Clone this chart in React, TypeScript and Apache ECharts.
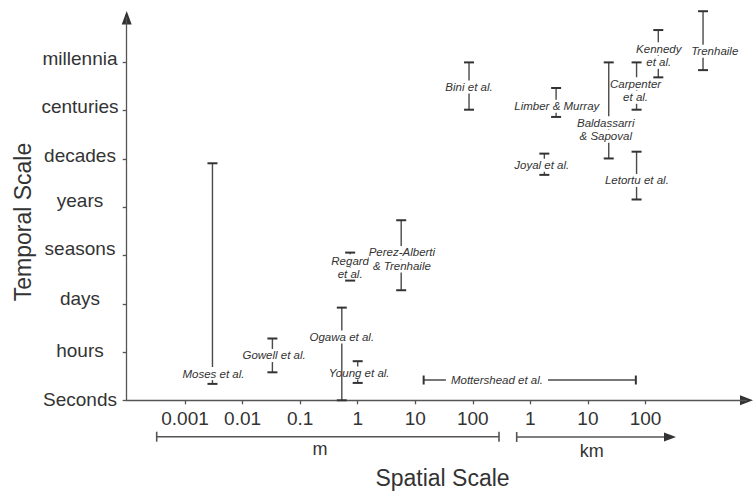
import React, { useEffect, useRef } from "react";
import * as echarts from "echarts";

// ---------- data ----------
const temporalLevels = ["Seconds", "hours", "days", "seasons", "years", "decades", "centuries", "millennia"];
const temporalTickValues = [0, 1, 2, 3, 4, 5, 6, 7];

const spatialTickValues = [0.001, 0.01, 0.1, 1, 10, 100, 1000, 10000, 100000]; // metres
const spatialTickLabels = ["0.001", "0.01", "0.1", "1", "10", "100", "1", "10", "100"];

const studyNames = [
  "Moses et al.",
  "Gowell et al.",
  "Young et al.",
  "Ogawa et al.",
  "Regard et al.",
  "Perez-Alberti & Trenhaile",
  "Bini et al.",
  "Limber & Murray",
  "Joyal et al.",
  "Carpenter et al.",
  "Kennedy et al.",
  "Baldassarri & Sapoval",
  "Letortu et al.",
  "Trenhaile",
];
const studySpatialMetres = [0.003, 0.033, 1.0, 0.53, 0.74, 5.7, 86, 2800, 1750, 70000, 167000, 23000, 70000, 1000000];
const studyTemporalLow = [0.34, 0.58, 0.36, 0, 2.48, 2.28, 6.02, 5.87, 4.67, 6.02, 6.69, 5.01, 4.16, 6.84];
const studyTemporalHigh = [4.91, 1.28, 0.81, 1.92, 3.06, 3.73, 7.0, 6.47, 5.11, 7.0, 7.67, 7.0, 5.15, 8.06];

const rangeStudyName = "Mottershead et al.";
const rangeStudySpatialMetres = [14, 68000];
const rangeStudyTemporal = 0.42;

// ---------- layout / style ----------
const FONT = '"Liberation Sans", Arial, Helvetica, sans-serif';
const TEXT = "#333333";
const AXIS = "#555555";
const ARROW = "#333333";
const LINE_GAP = 13.5;

const labelLines = [
  ["Moses et al."],
  ["Gowell et al."],
  ["Young et al."],
  ["Ogawa et al."],
  ["Regard", "et al."],
  ["Perez-Alberti", "& Trenhaile"],
  ["Bini et al."],
  ["Limber & Murray"],
  ["Joyal et al."],
  ["Carpenter", "et al."],
  ["Kennedy", "et al."],
  ["Baldassarri", "& Sapoval"],
  ["Letortu et al."],
  ["Trenhaile"],
];
// pixel offsets of each label block from the middle of its bar
const labelOffsets = [
  [1, 100], [1.7, 0], [1.5, 1], [0, -17], [0, 0.8], [0.7, 4], [0, 1],
  [0.7, 3.8], [-2.6, 0.9], [-1, 4.5], [0.5, 1.9], [-3, 19], [0.3, 4.8], [11.7, 10.5],
];
const rangeLabelOffset = [-32.8, 0];
// bottom padding per y label (visual fine-tuning of vertical placement)
const yLabelPad = [2, 3, 10, 13, 14, 7, 8, 7];

const GRID_LEFT = 126.7;
const GRID_TOP = 17.5;
const GRID_RIGHT = 7.5;
const GRID_BOTTOM = 95.7;
const X_MIN = Math.pow(10, -4.0128);
const X_MAX = Math.pow(10, 6.755);
const Y_MAX = 7.93;

const textEl = (text: string, x: number, y: number, pad: number[] = [0, 0, 0, 0]) => ({
  type: "text",
  x,
  y,
  style: {
    text,
    fill: TEXT,
    fontSize: 11.5,
    fontFamily: FONT,
    fontStyle: "italic",
    align: "center",
    verticalAlign: "middle",
    lineHeight: 13,
    backgroundColor: "#ffffff",
    padding: pad,
  },
});

const labelBlock = (lines: string[], cx: number, cy: number) =>
  lines.map((t, k) => textEl(t, cx, cy + (k - (lines.length - 1) / 2) * LINE_GAP));

export default function App() {
  const ref = useRef<HTMLDivElement>(null);

  useEffect(() => {
    if (!ref.current) return;
    const chart = echarts.init(ref.current, null, { renderer: "svg" });

    const rich: any = {};
    temporalLevels.forEach((_, i) => {
      rich["l" + i] = {
        fontSize: 19,
        fontFamily: FONT,
        color: TEXT,
        padding: [0, 0, yLabelPad[i], 0],
      };
    });

    const barData = studyNames.map((n, i) => ({
      name: n,
      value: [studySpatialMetres[i], studyTemporalLow[i], studyTemporalHigh[i]],
    }));

    const capStyle = { stroke: "#333", lineWidth: 2 };
    const stemStyle = { stroke: "#4a4a4a", lineWidth: 1.4 };

    const H = 496;
    const axisY = H - GRID_BOTTOM;

    const option: any = {
      animation: false,
      grid: { left: GRID_LEFT, right: GRID_RIGHT, top: GRID_TOP, bottom: GRID_BOTTOM, containLabel: false },
      xAxis: {
        type: "log",
        logBase: 10,
        min: X_MIN,
        max: X_MAX,
        axisLine: { show: true, lineStyle: { color: AXIS, width: 1.3 } },
        axisTick: {
          show: true,
          customValues: spatialTickValues,
          length: 4,
          lineStyle: { color: AXIS, width: 1.3 },
        },
        axisLabel: {
          customValues: spatialTickValues,
          formatter: (v: number) => {
            const idx = Math.round(Math.log10(v)) + 3;
            return spatialTickLabels[idx] ?? "";
          },
          fontSize: 19,
          fontFamily: FONT,
          color: TEXT,
          margin: 9,
        },
        splitLine: { show: false },
        minorTick: { show: false },
      },
      yAxis: {
        type: "value",
        min: 0,
        max: Y_MAX,
        axisLine: { show: true, lineStyle: { color: AXIS, width: 1.3 } },
        axisTick: {
          show: true,
          customValues: temporalTickValues,
          length: 4,
          lineStyle: { color: AXIS, width: 1.3 },
        },
        axisLabel: {
          customValues: temporalTickValues,
          formatter: (v: number) => {
            const i = Math.round(v);
            return "{l" + i + "|" + temporalLevels[i] + "}";
          },
          rich,
          align: "center",
          margin: 46.7,
          fontSize: 19,
          fontFamily: FONT,
          color: TEXT,
        },
        splitLine: { show: false },
      },
      series: [
        {
          type: "custom",
          name: rangeStudyName,
          silent: true,
          clip: false,
          encode: { x: [0, 1], y: 2 },
          data: [[rangeStudySpatialMetres[0], rangeStudySpatialMetres[1], rangeStudyTemporal]],
          renderItem: (params: any, api: any) => {
            const a = api.coord([api.value(0), api.value(2)]);
            const b = api.coord([api.value(1), api.value(2)]);
            const mid = (a[0] + b[0]) / 2;
            return {
              type: "group",
              children: [
                { type: "line", shape: { x1: a[0], y1: a[1], x2: b[0], y2: b[1] }, style: stemStyle },
                textEl(rangeStudyName, mid + rangeLabelOffset[0], a[1] + rangeLabelOffset[1], [0, 5, 0, 5]),
                { type: "line", shape: { x1: a[0], y1: a[1] - 4.5, x2: a[0], y2: a[1] + 4.5 }, style: capStyle },
                { type: "line", shape: { x1: b[0], y1: b[1] - 4.5, x2: b[0], y2: b[1] + 4.5 }, style: capStyle },
              ],
            };
          },
        },
        {
          type: "custom",
          name: "Studies",
          silent: true,
          clip: false,
          encode: { x: 0, y: [1, 2] },
          data: barData,
          renderItem: (params: any, api: any) => {
            const i = params.dataIndex;
            const lo = api.coord([api.value(0), api.value(1)]);
            const hi = api.coord([api.value(0), api.value(2)]);
            const midY = (lo[1] + hi[1]) / 2;
            const off = labelOffsets[i];
            return {
              type: "group",
              children: [
                { type: "line", shape: { x1: lo[0], y1: lo[1], x2: hi[0], y2: hi[1] }, style: stemStyle },
                ...labelBlock(labelLines[i], lo[0] + off[0], midY + off[1]),
                { type: "line", shape: { x1: lo[0] - 5, y1: lo[1], x2: lo[0] + 5, y2: lo[1] }, style: capStyle },
                { type: "line", shape: { x1: hi[0] - 5, y1: hi[1], x2: hi[0] + 5, y2: hi[1] }, style: capStyle },
              ],
            };
          },
        },
      ],
      graphic: [
        // axis arrowheads
        {
          type: "polygon",
          silent: true,
          shape: { points: [[GRID_LEFT, 11], [GRID_LEFT - 5, 24.5], [GRID_LEFT + 5, 24.5]] },
          style: { fill: ARROW },
        },
        {
          type: "polygon",
          silent: true,
          shape: { points: [[753, axisY], [740, axisY - 5], [740, axisY + 5]] },
          style: { fill: ARROW },
        },
        // metre bracket
        { type: "line", silent: true, shape: { x1: 156.7, y1: 436.7, x2: 499, y2: 436.7 }, style: { stroke: AXIS, lineWidth: 1.4 } },
        { type: "line", silent: true, shape: { x1: 156.7, y1: 431.7, x2: 156.7, y2: 441.7 }, style: { stroke: AXIS, lineWidth: 1.6 } },
        { type: "line", silent: true, shape: { x1: 499, y1: 431.7, x2: 499, y2: 441.7 }, style: { stroke: AXIS, lineWidth: 1.6 } },
        { type: "text", silent: true, x: 320, y: 449, style: { text: "m", fontSize: 18, fontFamily: FONT, fill: TEXT, align: "center", verticalAlign: "middle" } },
        // kilometre arrow
        { type: "line", silent: true, shape: { x1: 516.7, y1: 437, x2: 668, y2: 437 }, style: { stroke: AXIS, lineWidth: 1.4 } },
        { type: "line", silent: true, shape: { x1: 516.7, y1: 432, x2: 516.7, y2: 442 }, style: { stroke: AXIS, lineWidth: 1.6 } },
        { type: "polygon", silent: true, shape: { points: [[676, 437], [664, 432.5], [664, 441.5]] }, style: { fill: ARROW } },
        { type: "text", silent: true, x: 591.7, y: 450.5, style: { text: "km", fontSize: 18, fontFamily: FONT, fill: TEXT, align: "center", verticalAlign: "middle" } },
        // axis titles
        { type: "text", silent: true, x: 442.5, y: 478, style: { text: "Spatial Scale", fontSize: 23, fontFamily: FONT, fill: TEXT, align: "center", verticalAlign: "middle" } },
        { type: "text", silent: true, x: 23, y: 222, rotation: Math.PI / 2, style: { text: "Temporal Scale", fontSize: 23, fontFamily: FONT, fill: TEXT, align: "center", verticalAlign: "middle" } },
      ],
    };

    chart.setOption(option);
    return () => {
      chart.dispose();
    };
  }, []);

  return (
    <div
      ref={ref}
      style={{ position: "fixed", left: 0, top: 0, width: 754, height: 496, background: "#ffffff" }}
    />
  );
}
